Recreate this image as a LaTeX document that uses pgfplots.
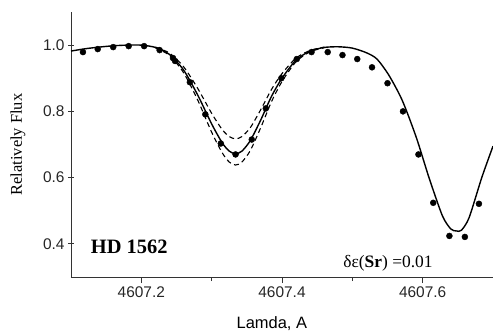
\documentclass[border=0pt]{standalone}
\usepackage{pgfplots}
\pgfplotsset{compat=1.18}
\usepackage{fontspec}
\setmainfont{Liberation Serif}
\setsansfont{Liberation Sans}
\begin{document}
\begin{tikzpicture}
\begin{axis}[
  scale only axis, width=422bp, height=265bp,
  xmin=4607.1, xmax=4607.7, ymin=0.3, ymax=1.1,
  axis x line*=bottom, axis y line*=left,
  axis line style={-, line width=0.9bp, black!80},
  xtick={4607.2,4607.4,4607.6}, xticklabels={4607.2,4607.4,4607.6},
  minor xtick={4607.3,4607.5},
  ytick={0.4,0.6,0.8,1.0}, yticklabels={0.4,0.6,0.8,1.0},
  x tick style={black!80, line width=0.9bp},
  y tick style={black!80, line width=0.9bp},
  xtick align=outside, ytick align=center,
  major tick length=6bp, minor tick length=4bp,
  ticklabel style={font=\sffamily\fontsize{15.5}{15.5}\selectfont, black!85},
  xticklabel style={yshift=0bp},
  yticklabel style={xshift=0bp},
  xlabel={Lamda, A},
  xlabel style={at={(axis description cs:0.476,-0.174)}, anchor=center, font=\sffamily\fontsize{16.5}{16.5}\selectfont},
  ylabel={Relatively Flux},
  ylabel style={at={(axis description cs:-0.1256,0.5)}, anchor=center, rotate=0, font=\fontsize{16.5}{16.5}\selectfont},
  clip=true,
]
% model spectrum (solid)
\addplot[black, line width=1.4bp, smooth, tension=0.45] coordinates {
(4607.100,0.982) (4607.120,0.989) (4607.140,0.994) (4607.160,0.998)
(4607.180,1.000) (4607.200,1.000) (4607.220,0.993) (4607.240,0.972)
(4607.260,0.925) (4607.280,0.850) (4607.300,0.762) (4607.315,0.705)
(4607.325,0.680) (4607.334,0.672) (4607.343,0.680) (4607.355,0.712)
(4607.370,0.775) (4607.385,0.845) (4607.400,0.900) (4607.420,0.955)
(4607.440,0.982) (4607.460,0.993) (4607.480,0.995) (4607.500,0.991)
(4607.520,0.977) (4607.535,0.958) (4607.552,0.909) (4607.571,0.833)
(4607.591,0.721) (4607.609,0.600) (4607.628,0.485) (4607.640,0.445)
(4607.648,0.439) (4607.655,0.441) (4607.666,0.479) (4607.684,0.600)
(4607.700,0.695)
};
% model +/- 0.01 dex (dashed)
\addplot[black, line width=1.1bp, dash pattern=on 5bp off 3.5bp, smooth, tension=0.45] coordinates {
(4607.220,0.994) (4607.240,0.976) (4607.260,0.935) (4607.280,0.870)
(4607.300,0.794) (4607.315,0.745) (4607.325,0.724) (4607.334,0.717)
(4607.343,0.724) (4607.355,0.751) (4607.370,0.806) (4607.385,0.866)
(4607.400,0.914) (4607.420,0.961) (4607.440,0.984) (4607.460,0.994)
};
\addplot[black, line width=1.1bp, dash pattern=on 5bp off 3.5bp, smooth, tension=0.45] coordinates {
(4607.220,0.992) (4607.240,0.969) (4607.260,0.917) (4607.280,0.835)
(4607.300,0.737) (4607.315,0.675) (4607.325,0.647) (4607.334,0.638)
(4607.343,0.647) (4607.355,0.682) (4607.370,0.752) (4607.385,0.829)
(4607.400,0.890) (4607.420,0.950) (4607.440,0.980) (4607.460,0.992)
};
% observed (dots)
\addplot[only marks, mark=*, mark size=3bp, black] coordinates {
(4607.117,0.979) (4607.138,0.988) (4607.160,0.994) (4607.182,0.997)
(4607.204,0.997) (4607.226,0.985) (4607.245,0.961) (4607.248,0.952)
(4607.269,0.888) (4607.291,0.791) (4607.313,0.703) (4607.334,0.670)
(4607.357,0.715) (4607.377,0.809) (4607.399,0.900) (4607.421,0.958)
(4607.442,0.979) (4607.465,0.979) (4607.486,0.970) (4607.507,0.958)
(4607.528,0.933) (4607.550,0.885) (4607.572,0.800) (4607.594,0.670)
(4607.615,0.524) (4607.638,0.424) (4607.660,0.421) (4607.680,0.521)
};
\node[anchor=west, inner sep=0pt, font=\bfseries\fontsize{20.5}{20.5}\selectfont] at (axis cs:4607.128,0.391) {HD 1562};
\node[anchor=west, inner sep=0pt, font=\fontsize{17.5}{17.5}\selectfont] at (axis cs:4607.487,0.342) {δε(\textbf{Sr}) =0.01};
\end{axis}
\pgfresetboundingbox
\path[use as bounding box] ([shift={(-71bp,-54bp)}]current axis.south west) rectangle ++(493bp,331bp);
\end{tikzpicture}
\end{document}
